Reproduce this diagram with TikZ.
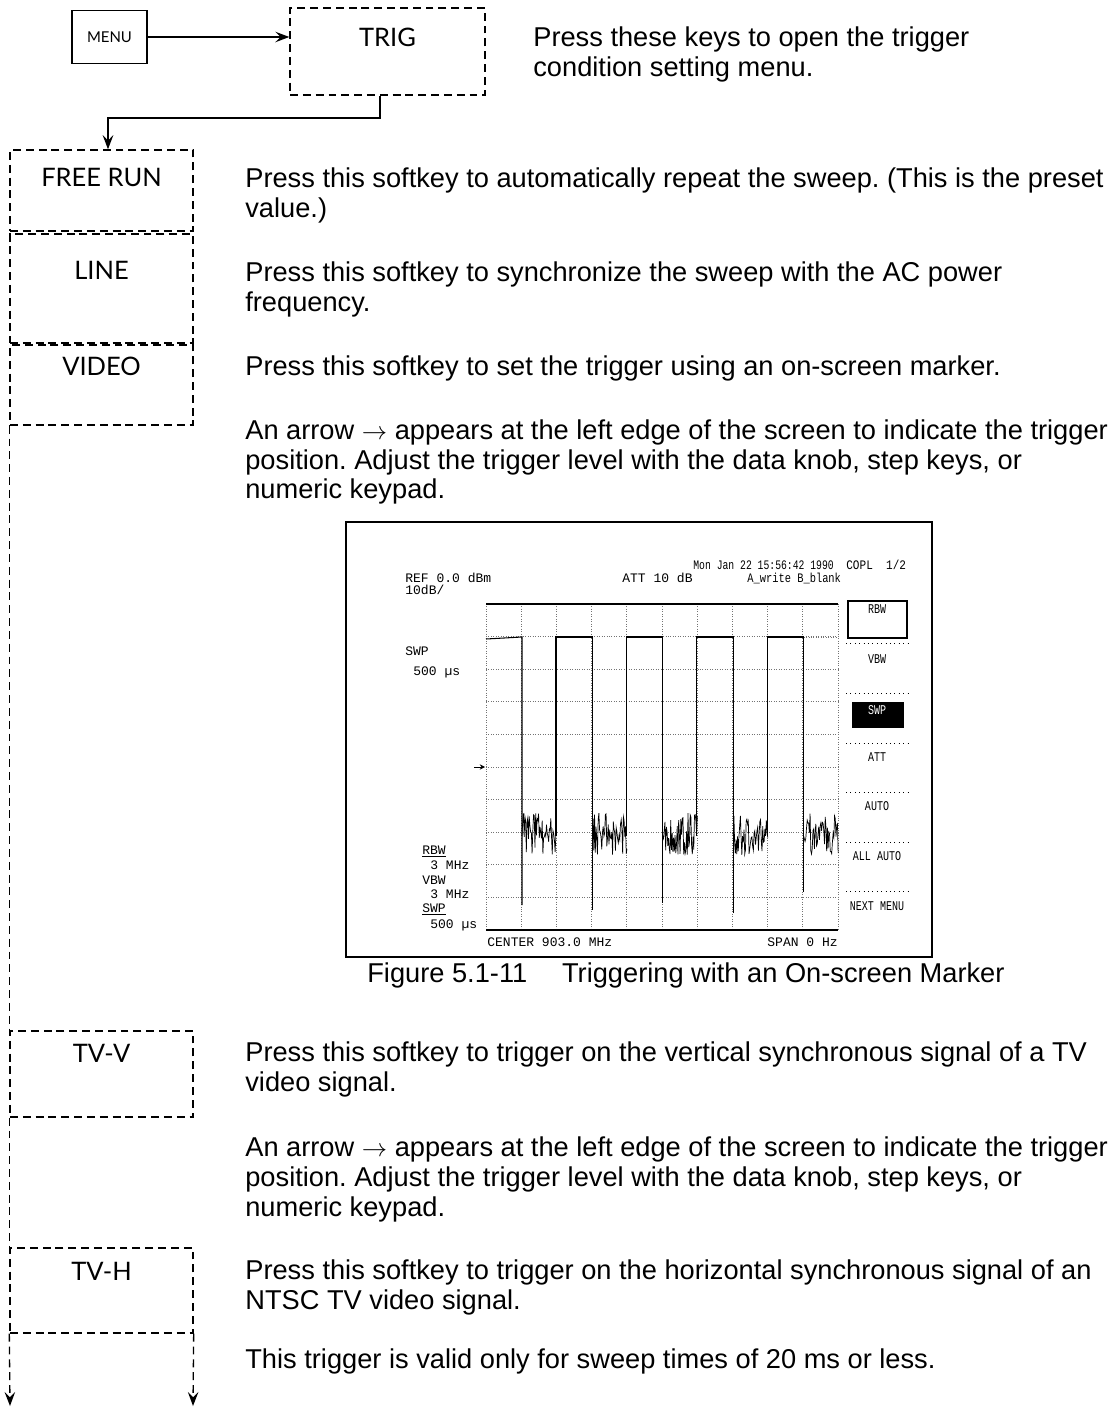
\documentclass[tikz,border=0pt]{standalone}
\usepackage{fontspec}
\setmainfont{Liberation Sans}
\newfontfamily\keyfont{Lato}
\newfontfamily\scrfont{Liberation Mono}
\usetikzlibrary{arrows.meta, positioning}
\frenchspacing

\begin{document}
\begin{tikzpicture}[x=0.02cm, y=-0.02cm,
    key/.style={draw, dash pattern=on 4.5pt off 2.8pt, line width=0.8pt, minimum width=3.66cm, inner sep=0pt},
    keylabel/.style={font=\keyfont\fontsize{14.5}{16}\selectfont, inner sep=0pt, anchor=base},
    desc/.style={anchor=base west, align=left, inner sep=0pt, font=\fontsize{15.5}{16.8}\selectfont},
    flow/.style={line width=0.75pt, -{Stealth[length=8pt, width=6pt, inset=3pt]}},
    bus/.style={line width=0.8pt, dash pattern=on 4.5pt off 2.8pt},
    scr/.style={font=\scrfont\fontsize{7.4}{8}\selectfont, inner sep=0pt, anchor=base west},
    narrow/.style={font=\scrfont\fontsize{7.6}{8}\selectfont, inner sep=0pt, anchor=base},
    scrgrid/.style={densely dotted, line width=0.4pt, black!55},
    trace/.style={line width=0.6pt},
    sep/.style={dotted, line width=0.5pt}]
  \useasboundingbox (0,0) rectangle (1119,1408);

  % MENU and TRIG
  \node[draw, line width=0.75pt, minimum width=1.5cm, minimum height=1.06cm, inner sep=0pt,
        font=\keyfont\fontsize{8.5}{9}\selectfont] (menu) at (109.5,37) {MENU};
  \node[key, minimum width=3.9cm, minimum height=1.74cm] (trig) at (387.5,51.5) {};
  \node[keylabel] (trigl) at (387.5,47) {TRIG};
  \draw[flow] (menu.east) -- (menu.east -| trig.west);
  \node[desc] (trigd) at (533,76.5) {Press these keys to open the trigger\\condition setting menu.};

  % softkeys of the trigger menu
  \node[key, minimum height=1.62cm] (free) at (101.5,190.5) {};
  \node[key, minimum height=2.18cm] (line) at (101.5,288.5) {};
  \node[key, minimum height=1.6cm] (video) at (101.5,385) {};
  \node[key, minimum height=1.72cm] (tvv) at (101.5,1074) {};
  \node[key, minimum height=1.7cm] (tvh) at (101.5,1290.5) {};
  \node[keylabel] (freel) at (101.5,187) {FREE RUN};
  \node[keylabel] (linel) at (101.5,280) {LINE};
  \node[keylabel] (videol) at (101.5,376) {VIDEO};
  \node[keylabel] (tvvl) at (101.5,1062) {TV-V};
  \node[keylabel] (tvhl) at (101.5,1280) {TV-H};

  \coordinate (bend) at (108,118);
  \draw[flow] ([xshift=-0.15cm]trig.south) |- (bend) -- (free.north -| bend);
  \draw[bus] (video.south west) -- (tvv.north west);
  \draw[bus] (tvv.south west) -- (tvh.north west);
  \coordinate (endl) at (10,1406);
  \coordinate (endr) at (193,1406);
  \draw[bus, flow] (tvh.south west) -- (endl);
  \draw[bus, flow] (tvh.south east) -- (endr);

  % descriptions
  \node[desc] (freed) at (245,217.5) {Press this softkey to automatically repeat the sweep. (This is the preset\\value.)};
  \node[desc] (lined) at (245,311.5) {Press this softkey to synchronize the sweep with the AC power\\frequency.};
  \node[desc] (videod) at (245,376) {Press this softkey to set the trigger using an on-screen marker.};
  \node[desc] (arrowd) at (245,499) {An arrow $\rightarrow$ appears at the left edge of the screen to indicate the trigger\\position. Adjust the trigger level with the data knob, step keys, or\\numeric keypad.};
  \node[desc] (tvvd) at (245,1091.5) {Press this softkey to trigger on the vertical synchronous signal of a TV\\video signal.};
  \node[desc] (arrowd2) at (245,1216) {An arrow $\rightarrow$ appears at the left edge of the screen to indicate the trigger\\position. Adjust the trigger level with the data knob, step keys, or\\numeric keypad.};
  \node[desc] (tvhd) at (245,1309.5) {Press this softkey to trigger on the horizontal synchronous signal of an\\NTSC TV video signal.};
  \node[desc] (validd) at (245,1368) {This trigger is valid only for sweep times of 20 ms or less.};

  % screen copy
  \draw[line width=1.1pt] (346,522) rectangle (932,957);
  \node[desc] (caption) at (367,982) {Figure 5.1-11\quad\ Triggering with an On-screen Marker};

  \foreach \i in {1,...,9} {
    \draw[scrgrid] ({486+35.2*\i},604) -- ({486+35.2*\i},930);
    \draw[scrgrid] (486,{604+32.6*\i}) -- (838,{604+32.6*\i});
  }
  \draw[scrgrid] (486,604) -- (486,930);
  \draw[scrgrid] (838,604) -- (838,930);
  \draw[trace] (486,604) -- (838,604);
  \draw[trace] (486,930) -- (838,930);

  % trace: pulses and noise
  \pgfmathsetseed{17}
  \draw[trace] (486,639) -- (522,637) -- (522,905);
  \draw[trace] (556,836) -- (556,637) -- (592.4,637) -- (592.4,910);
  \draw[trace] (626.4,836) -- (626.4,637) -- (662.8,637) -- (662.8,903);
  \draw[trace] (696.8,836) -- (696.8,637) -- (733.2,637) -- (733.2,913);
  \draw[trace] (767.2,836) -- (767.2,637) -- (803.6,637) -- (803.6,892);
  \draw[scrgrid] (803.6,637) -- (838,637);
  \foreach \f in {522,592.4,662.8,733.2,803.6} {
    \draw[trace, line width=0.4pt] (\f,836) \foreach \s in {1,...,48} { -- ({\f+\s*0.72},{834+21*rand}) };
  }
  \draw[-{Stealth[length=3pt, width=3pt]}, line width=0.5pt] (474,767) -- (485,767);

  % screen texts
  \node[scr] (datel) at (693,569) {\scalebox{0.75}[1]{Mon Jan 22 15:56:42 1990}};
  \node[scr] (copl) at (846,569) {\scalebox{0.85}[1]{COPL\ \ 1/2}};
  \node[scr] (refl) at (405,582) {REF 0.0 dBm};
  \node[scr] (divl) at (405,594) {10dB/};
  \node[scr] (attl) at (622,582) {ATT 10 dB};
  \node[scr] (model) at (747,582) {\scalebox{0.8}[1]{A\_write B\_blank}};
  \node[scr] (swpl) at (405,655) {SWP};
  \node[scr] (swpv) at (413,675) {500 \textmu s};
  \node[scr] (rbwl) at (422,854) {\underline{RBW}};
  \node[scr] (rbwv) at (430,869) {3 MHz};
  \node[scr] (vbwl) at (422,884) {VBW};
  \node[scr] (vbwv) at (430,898) {3 MHz};
  \node[scr] (swpl2) at (422,912) {\underline{SWP}};
  \node[scr] (swpv2) at (430,928) {500 \textmu s};
  \node[scr] (centl) at (487,946) {CENTER 903.0 MHz};
  \node[scr, anchor=base east] (spanl) at (838,946) {SPAN 0 Hz};

  % softkey panel of the screen
  \draw[line width=0.6pt] (848,601) rectangle (907,638);
  \fill (852,702) rectangle (904,728);
  \foreach \y in {643,693,743,792,842,891} {
    \draw[sep] (846,\y) -- (908,\y);
  }
  \node[narrow] (sk1) at (877,613) {\scalebox{0.75}[1]{RBW}};
  \node[narrow] (sk2) at (877,663) {\scalebox{0.75}[1]{VBW}};
  \node[narrow, text=white] (sk3) at (877,714) {\scalebox{0.75}[1]{SWP}};
  \node[narrow] (sk4) at (877,761) {\scalebox{0.75}[1]{ATT}};
  \node[narrow] (sk5) at (877,810) {\scalebox{0.75}[1]{AUTO}};
  \node[narrow] (sk6) at (877,860) {\scalebox{0.75}[1]{ALL AUTO}};
  \node[narrow] (sk7) at (877,910) {\scalebox{0.75}[1]{NEXT MENU}};
\end{tikzpicture}
\end{document}
